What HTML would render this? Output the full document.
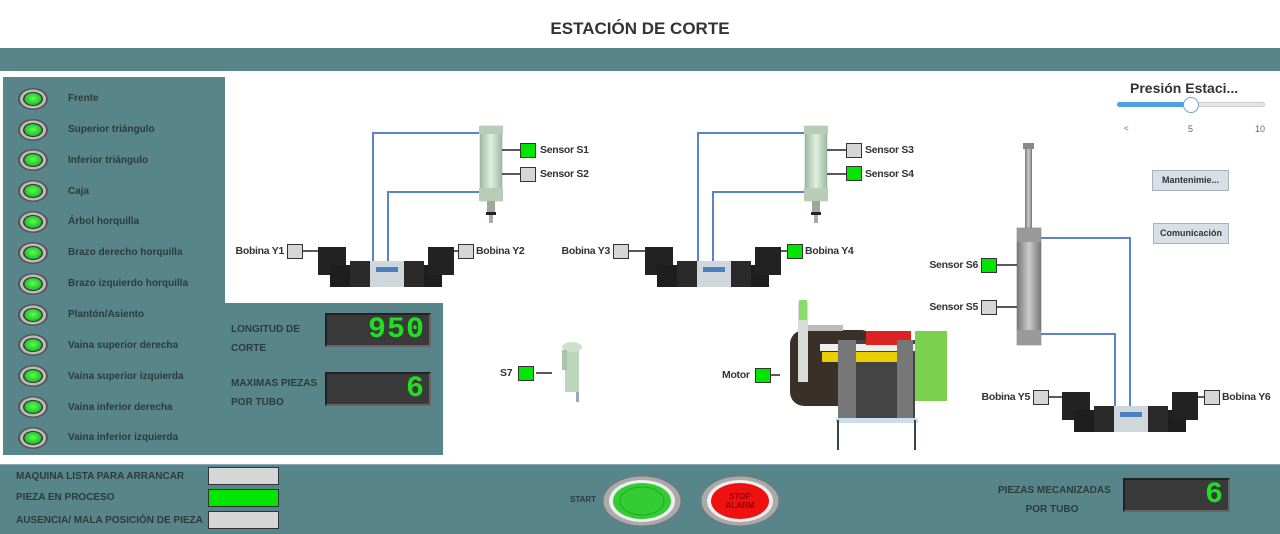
<!DOCTYPE html>
<html><head><meta charset="utf-8">
<style>
*{box-sizing:border-box;margin:0;padding:0}
body{width:1280px;height:534px;overflow:hidden;background:#fff;font-family:"Liberation Sans",sans-serif;position:relative;color:#333}
.abs{position:absolute}
.teal{background:#578589}
.lbl{position:absolute;font-size:10.5px;letter-spacing:-0.3px;font-weight:bold;color:#333;white-space:nowrap}
.rl{text-align:right;width:60px}
.pl{position:absolute;font-size:10px;font-weight:bold;color:#2e3b3c;white-space:nowrap}
.box{position:absolute;width:16px;height:15px;background:#d6d6d6;border:1px solid #333}
.on{background:#00e600}
.seg{position:absolute;background:#3a3a3a;border:2px solid #222;border-right-color:#666;border-bottom-color:#666;color:#22dd22;font-family:"Liberation Mono",monospace;font-weight:bold;text-align:right;padding-right:4px;letter-spacing:1px}
.btn{position:absolute;background:#d8dfe6;border:1px solid #a8b2bc;font-size:9px;font-weight:bold;color:#333;text-align:center}
</style></head><body>
<div class="abs" style="left:0;top:0;width:1280px;height:47px;background:#fff;text-align:center;font-size:17px;font-weight:bold;line-height:58px;color:#333">ESTACIÓN DE CORTE</div>
<div class="abs teal" style="left:0;top:48px;width:1280px;height:23px"></div>

<div class="abs teal" style="left:3px;top:77px;width:222px;height:378px"></div>
<div class="abs teal" style="left:224px;top:303px;width:219px;height:152px"></div>

<svg class="abs" style="left:0;top:0" width="1280" height="534">
<defs>
<radialGradient id="gl" cx="50%" cy="45%" r="55%"><stop offset="0" stop-color="#5f5"/><stop offset="1" stop-color="#2b2"/></radialGradient>
<linearGradient id="cyl" x1="0" x2="1"><stop offset="0" stop-color="#9fb8a0"/><stop offset=".5" stop-color="#e0f0e0"/><stop offset="1" stop-color="#9fb8a0"/></linearGradient>
<linearGradient id="gcyl" x1="0" x2="1"><stop offset="0" stop-color="#777"/><stop offset=".5" stop-color="#ccc"/><stop offset="1" stop-color="#777"/></linearGradient>
<g id="led"><ellipse cx="0" cy="0" rx="15" ry="11" fill="#555"/><ellipse cx="0" cy="0" rx="13" ry="9.5" fill="#bbb"/><ellipse cx="0" cy="0" rx="10" ry="7" fill="#333"/><ellipse cx="0" cy="0" rx="8.5" ry="6" fill="url(#gl)"/></g>
<g id="valve"><rect x="0" y="2" width="28" height="28" fill="#222"/><rect x="12" y="20" width="20" height="22" fill="#1e1e1e"/><rect x="32" y="16" width="20" height="26" fill="#2a2a2a"/><rect x="52" y="16" width="34" height="26" fill="#cfd6dc"/><rect x="58" y="22" width="22" height="5" fill="#4a7fc0"/><rect x="86" y="16" width="20" height="26" fill="#2a2a2a"/><rect x="106" y="20" width="18" height="22" fill="#1e1e1e"/><rect x="110" y="2" width="26" height="28" fill="#222"/></g>
<g id="cylv"><rect x="0" y="0" width="22" height="75" fill="url(#cyl)" stroke="#8a9" stroke-width=".5"/><rect x="-1" y="0" width="24" height="8" fill="#b8ccb8"/><rect x="-1" y="62" width="24" height="13" fill="#b8ccb8"/><rect x="7" y="75" width="8" height="12" fill="#9a9"/><rect x="6" y="86" width="10" height="3" fill="#222"/><rect x="9" y="89" width="4" height="8" fill="#aaa"/></g>
</defs>
<g>
<use href="#led" x="33" y="99"/><use href="#led" x="33" y="130"/><use href="#led" x="33" y="160"/><use href="#led" x="33" y="191"/><use href="#led" x="33" y="222"/><use href="#led" x="33" y="253"/><use href="#led" x="33" y="284"/><use href="#led" x="33" y="315"/><use href="#led" x="33" y="345"/><use href="#led" x="33" y="376"/><use href="#led" x="33" y="407"/><use href="#led" x="33" y="438"/>
</g>
<g fill="none" stroke="#5b84c8" stroke-width="2">
<path d="M480 133H373V262"/><path d="M480 192H388V262"/>
<path d="M805 133H698V262"/><path d="M805 192H713V262"/>
<path d="M1041 238H1130V412"/><path d="M1041 334H1115V412"/>
</g>
<use href="#cylv" x="480" y="126"/><use href="#cylv" x="805" y="126"/>
<g><rect x="1025" y="147" width="7" height="82" fill="url(#gcyl)"/><rect x="1023" y="143" width="11" height="6" fill="#888"/><rect x="1017" y="228" width="24" height="117" fill="url(#gcyl)" stroke="#666" stroke-width=".5"/><rect x="1017" y="228" width="24" height="14" fill="#999"/><rect x="1017" y="330" width="24" height="15" fill="#999"/></g>
<use href="#valve" x="318" y="245"/><use href="#valve" x="645" y="245"/><use href="#valve" x="1062" y="390"/>
<g stroke="#222" stroke-width="1.5">
<line x1="502" y1="150" x2="520" y2="150"/><line x1="502" y1="174" x2="520" y2="174"/>
<line x1="827" y1="150" x2="846" y2="150"/><line x1="827" y1="174" x2="846" y2="174"/>
<line x1="303" y1="251" x2="318" y2="251"/><line x1="454" y1="251" x2="458" y2="251"/>
<line x1="629" y1="251" x2="645" y2="251"/><line x1="781" y1="251" x2="787" y2="251"/>
<line x1="997" y1="265" x2="1017" y2="265"/><line x1="997" y1="307" x2="1017" y2="307"/>
<line x1="1049" y1="397" x2="1062" y2="397"/><line x1="1198" y1="397" x2="1204" y2="397"/>
<line x1="536" y1="373" x2="552" y2="373"/><line x1="771" y1="375" x2="780" y2="375"/>
</g>
<g><rect x="565" y="347" width="14" height="45" fill="#bcd6bc"/><ellipse cx="572" cy="347" rx="10" ry="5" fill="#cde2cd"/><rect x="562" y="350" width="5" height="20" fill="#aac4aa"/><rect x="576" y="392" width="3" height="10" fill="#9ab"/></g>
<g>
<rect x="790" y="330" width="85" height="76" rx="14" fill="#3a3028"/>
<rect x="840" y="340" width="75" height="80" fill="#444"/>
<rect x="822" y="352" width="90" height="10" fill="#e8d000"/>
<rect x="820" y="344" width="95" height="7" fill="#eee"/>
<rect x="866" y="331" width="45" height="14" fill="#d22"/>
<rect x="838" y="340" width="18" height="80" fill="#777"/><rect x="897" y="340" width="16" height="80" fill="#777"/>
<rect x="915" y="331" width="32" height="70" fill="#7cd050"/>
<rect x="798" y="302" width="10" height="80" fill="#d8dcd8"/><rect x="799" y="300" width="8" height="20" fill="#8d6"/>
<rect x="808" y="325" width="35" height="6" fill="#bbb"/>
<rect x="836" y="418" width="82" height="5" fill="#cde"/>
<line x1="838" y1="420" x2="838" y2="450" stroke="#345" stroke-width="2"/><line x1="915" y1="420" x2="915" y2="450" stroke="#345" stroke-width="2"/>
</g>
</svg>

<div class="pl" style="left:68px;top:93px">Frente</div>
<div class="pl" style="left:68px;top:124px">Superior triángulo</div>
<div class="pl" style="left:68px;top:155px">Inferior triángulo</div>
<div class="pl" style="left:68px;top:186px">Caja</div>
<div class="pl" style="left:68px;top:216px">Árbol horquilla</div>
<div class="pl" style="left:68px;top:247px">Brazo derecho horquilla</div>
<div class="pl" style="left:68px;top:278px">Brazo izquierdo horquilla</div>
<div class="pl" style="left:68px;top:309px">Plantón/Asiento</div>
<div class="pl" style="left:68px;top:340px">Vaina superior derecha</div>
<div class="pl" style="left:68px;top:371px">Vaina superior izquierda</div>
<div class="pl" style="left:68px;top:402px">Vaina inferior derecha</div>
<div class="pl" style="left:68px;top:432px">Vaina inferior izquierda</div>

<div class="pl" style="left:231px;top:320px;line-height:19px">LONGITUD DE<br>CORTE</div>
<div class="seg" style="left:325px;top:313px;width:106px;height:34px;font-size:30px;line-height:30px">950</div>
<div class="pl" style="left:231px;top:374px;line-height:19px">MAXIMAS PIEZAS<br>POR TUBO</div>
<div class="seg" style="left:325px;top:372px;width:106px;height:34px;font-size:30px;line-height:30px">6</div>

<div class="box on" style="left:520px;top:143px"></div><div class="lbl" style="left:540px;top:144px">Sensor S1</div>
<div class="box" style="left:520px;top:167px"></div><div class="lbl" style="left:540px;top:168px">Sensor S2</div>
<div class="box" style="left:846px;top:143px"></div><div class="lbl" style="left:865px;top:144px">Sensor S3</div>
<div class="box on" style="left:846px;top:166px"></div><div class="lbl" style="left:865px;top:168px">Sensor S4</div>
<div class="lbl rl" style="left:224px;top:245px">Bobina Y1</div><div class="box" style="left:287px;top:244px"></div>
<div class="box" style="left:458px;top:244px"></div><div class="lbl" style="left:476px;top:245px">Bobina Y2</div>
<div class="lbl rl" style="left:550px;top:245px">Bobina Y3</div><div class="box" style="left:613px;top:244px"></div>
<div class="box on" style="left:787px;top:244px"></div><div class="lbl" style="left:805px;top:245px">Bobina Y4</div>
<div class="lbl rl" style="left:918px;top:259px">Sensor S6</div><div class="box on" style="left:981px;top:258px"></div>
<div class="lbl rl" style="left:918px;top:301px">Sensor S5</div><div class="box" style="left:981px;top:300px"></div>
<div class="lbl rl" style="left:970px;top:391px">Bobina Y5</div><div class="box" style="left:1033px;top:390px"></div>
<div class="box" style="left:1204px;top:390px"></div><div class="lbl" style="left:1222px;top:391px">Bobina Y6</div>
<div class="lbl" style="left:500px;top:367px">S7</div><div class="box on" style="left:518px;top:366px"></div>
<div class="lbl" style="left:722px;top:369px">Motor</div><div class="box on" style="left:755px;top:368px"></div>

<div class="abs" style="left:1130px;top:80px;font-size:14px;font-weight:bold;color:#333">Presión Estaci...</div>
<div class="abs" style="left:1117px;top:102px;width:148px;height:5px;border-radius:3px;background:#e6e6e6;border:1px solid #ccc"></div>
<div class="abs" style="left:1117px;top:102px;width:74px;height:5px;border-radius:3px;background:#4aa3df"></div>
<div class="abs" style="left:1183px;top:97px;width:16px;height:16px;border-radius:50%;background:#fff;border:1px solid #6aa6d6"></div>
<div class="abs" style="left:1124px;top:124px;font-size:8px;color:#666">&lt;</div>
<div class="abs" style="left:1188px;top:124px;font-size:9px;color:#666">5</div>
<div class="abs" style="left:1255px;top:124px;font-size:9px;color:#666">10</div>
<div class="btn" style="left:1152px;top:170px;width:77px;height:21px;line-height:19px">Mantenimie...</div>
<div class="btn" style="left:1153px;top:223px;width:76px;height:21px;line-height:19px">Comunicación</div>

<div class="abs teal" style="left:0;top:464px;width:1280px;height:70px;border-top:1px solid #8ab"></div>
<div class="pl" style="left:16px;top:471px">MAQUINA LISTA PARA ARRANCAR</div>
<div class="abs" style="left:208px;top:467px;width:71px;height:18px;background:#d6d6d6;border:1px solid #333"></div>
<div class="pl" style="left:16px;top:492px">PIEZA EN PROCESO</div>
<div class="abs" style="left:208px;top:489px;width:71px;height:18px;background:#00e600;border:1px solid #333"></div>
<div class="pl" style="left:16px;top:515px">AUSENCIA/ MALA POSICIÓN DE PIEZA</div>
<div class="abs" style="left:208px;top:511px;width:71px;height:18px;background:#d6d6d6;border:1px solid #333"></div>
<div class="pl" style="left:570px;top:495px;font-size:8px">START</div>
<svg class="abs" style="left:600px;top:474px" width="185" height="54">
<g><ellipse cx="42" cy="27" rx="39" ry="25" fill="#aaa" stroke="#777"/><ellipse cx="42" cy="27" rx="33" ry="21" fill="#eee"/><ellipse cx="42" cy="27" rx="29" ry="18" fill="#33cc33"/><ellipse cx="42" cy="27" rx="22" ry="14" fill="none" stroke="#2a2" /></g>
<g><ellipse cx="140" cy="27" rx="39" ry="25" fill="#aaa" stroke="#777"/><ellipse cx="140" cy="27" rx="33" ry="21" fill="#eee"/><ellipse cx="140" cy="27" rx="29" ry="18" fill="#ee1111"/><text x="140" y="25" font-size="8" font-weight="bold" fill="#900" text-anchor="middle" font-family="Liberation Sans">STOP</text><text x="140" y="34" font-size="8" font-weight="bold" fill="#900" text-anchor="middle" font-family="Liberation Sans">ALARM</text></g>
</svg>
<div class="pl" style="left:998px;top:481px;line-height:19px;text-align:center;width:108px">PIEZAS MECANIZADAS<br>POR TUBO</div>
<div class="seg" style="left:1123px;top:478px;width:107px;height:34px;font-size:30px;line-height:30px">6</div>
</body></html>
